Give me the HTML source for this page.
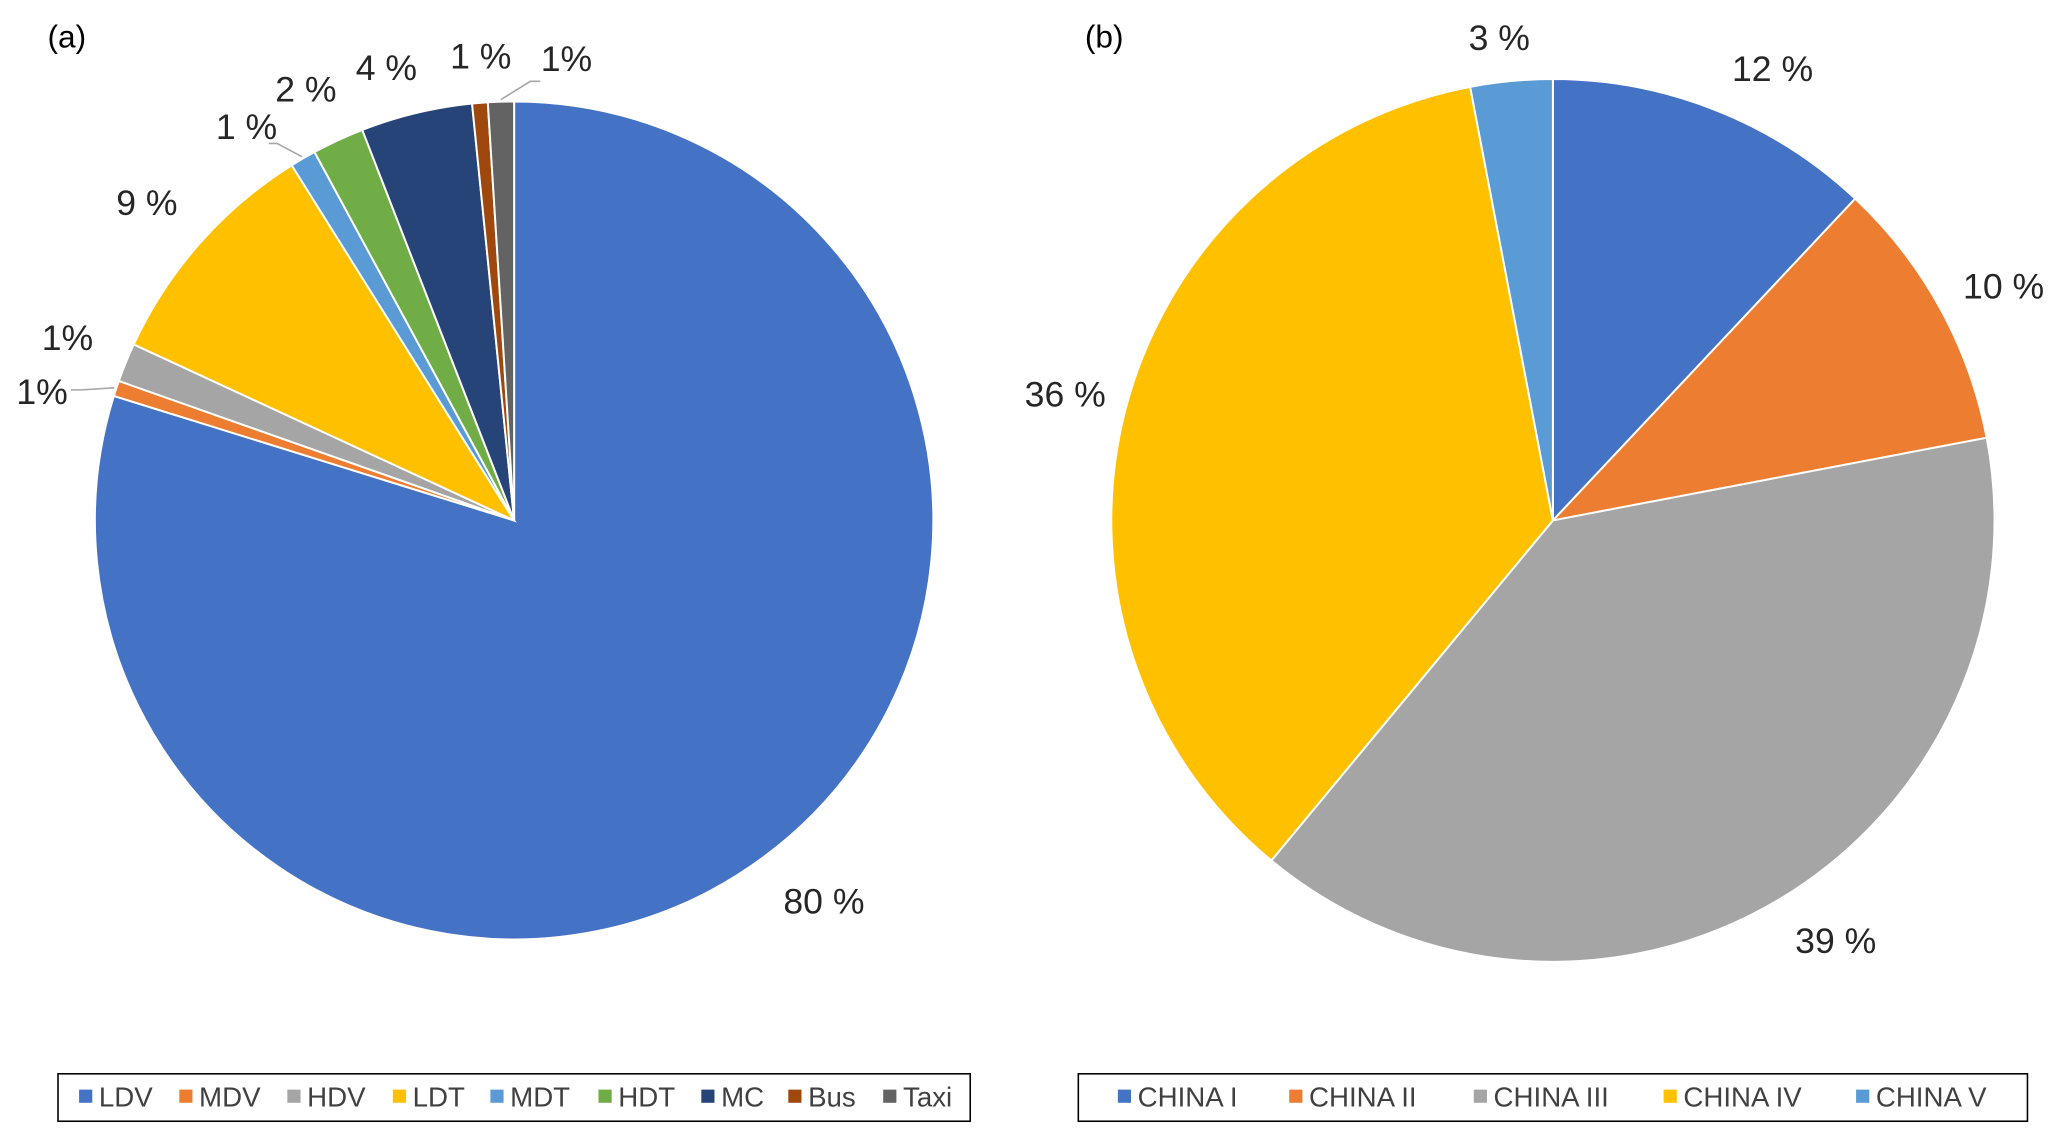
<!DOCTYPE html>
<html><head><meta charset="utf-8">
<style>
html,body{margin:0;padding:0;background:#fff;}
svg{display:block;font-family:"Liberation Sans",Arial,sans-serif;}
</style></head>
<body>
<svg id="chart" width="2067" height="1141" viewBox="0 0 1568 866" preserveAspectRatio="none" xmlns="http://www.w3.org/2000/svg">
<rect width="1568" height="866" fill="#fff"/>
<text x="36" y="36" font-size="24" fill="#000">(a)</text>
<text x="823" y="36" font-size="24" fill="#000">(b)</text>
<g id="pieA"></g>
<g id="pieB"></g>
<rect x="44" y="815" width="692" height="36" fill="none" stroke="#000" stroke-width="1.2"/>
<rect x="818" y="815" width="720" height="36" fill="none" stroke="#000" stroke-width="1.2"/>
<g id="legA"></g>
<g id="legB"></g>
</svg>
<script>
const catsA = ["LDV","MDV","HDV","LDT","MDT","HDT","MC","Bus","Taxi"];
const valsA = [79.8,0.6,1.5,9.2,1.0,2.0,4.3,0.6,1.0];
const labelsA = ["80 %","1%","1%","9 %","1 %","2 %","4 %","1 %","1%"];
const colorsA = ["#4472C4","#ED7D31","#A5A5A5","#FFC000","#5B9BD5","#70AD47","#264478","#9E480E","#636363"];
const catsB = ["CHINA I","CHINA II","CHINA III","CHINA IV","CHINA V"];
const valsB = [12,10,39,36,3];
const labelsB = ["12 %","10 %","39 %","36 %","3 %"];
const colorsB = ["#4472C4","#ED7D31","#A5A5A5","#FFC000","#5B9BD5"];
// label nudges (styling, not data)
const nudgeA = [[22,0],[-17,16],[-6,-3],[-9,-3],[-22,12],[-7,-1],[-13,6],[4,6],[51,9]];
const leaderA = [false,true,false,false,true,false,false,false,true];
const nudgeB = [[31,0],[19,0],[27,2],[-13,-4],[-6,1]];
const NS="http://www.w3.org/2000/svg";
function mk(tag,attrs,parent){const e=document.createElementNS(NS,tag);for(const k in attrs)e.setAttribute(k,attrs[k]);parent.appendChild(e);return e;}
function pt(cx,cy,r,a){return [cx+r*Math.sin(a),cy-r*Math.cos(a)];}
function pie(g,cats,vals,labels,colors,cx,cy,r,lr,nudge,leader){
  const tot=vals.reduce((s,v)=>s+v,0);let a0=0;
  vals.forEach((v,i)=>{
    const a1=a0+v/tot*2*Math.PI;
    const p0=pt(cx,cy,r,a0),p1=pt(cx,cy,r,a1);
    const large=(a1-a0)>Math.PI?1:0;
    const p=mk("path",{d:`M${cx},${cy}L${p0[0]},${p0[1]}A${r},${r} 0 ${large} 1 ${p1[0]},${p1[1]}Z`,fill:colors[i],stroke:"#fff","stroke-width":1.5},g);
    
    
    const am=(a0+a1)/2;
    const lp=pt(cx,cy,r*lr,am);
    const n=nudge[i]||[0,0];
    const tx=lp[0]+n[0], ty=lp[1]+n[1];
    if(leader&&leader[i]){
      const e=pt(cx,cy,r*1.005,am);
      const l=mk("polyline",{points:`${e[0]},${e[1]} ${e[0]+(tx-e[0])*0.45},${e[1]+(ty-e[1])*0.45} ${e[0]+(tx-e[0])*0.6},${e[1]+(ty-e[1])*0.45}`,fill:"none",stroke:"#a6a6a6","stroke-width":1.2},g);
      
      
    }
    const t=mk("text",{x:tx,y:ty+9,"font-size":27,fill:"#262626","text-anchor":"middle"},g);
    t.textContent=labels[i];
    
    
    a0=a1;
  });
}
pie(document.getElementById("pieA"),catsA,valsA,labelsA,colorsA,390,395,318,1.13,nudgeA,leaderA);
pie(document.getElementById("pieB"),catsB,valsB,labelsB,colorsB,1178,395,335,1.1,nudgeB,null);
function legend(g,cats,colors,x0,widths){
  let x=x0;
  cats.forEach((c,i)=>{
    const r=mk("rect",{x:x,y:827,width:10,height:10,fill:colors[i]},g);
    
    
    const t=mk("text",{x:x+15,y:840,"font-size":21,fill:"#404040"},g);
    t.textContent=c;
    
    
    x+=widths[i];
  });
}
legend(document.getElementById("legA"),catsA,colorsA,60,[76,82,80,74,82,78,66,72,75]);
legend(document.getElementById("legB"),catsB,colorsB,848,[130,140,144,146,130]);
</script>
</body></html>
